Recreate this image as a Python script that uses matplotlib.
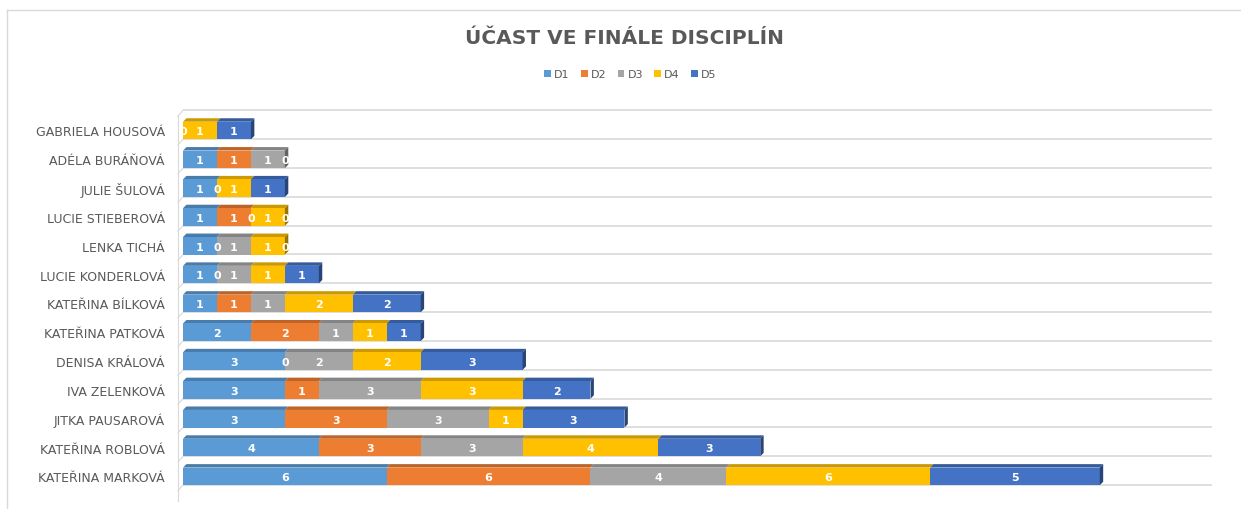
import numpy as np
import matplotlib.pyplot as plt
from matplotlib.patches import Polygon
from matplotlib.lines import Line2D

# data (top to bottom), nan = no value in the sheet
jmena = ["GABRIELA HOUSOVÁ", "ADÉLA BURÁŇOVÁ", "JULIE ŠULOVÁ", "LUCIE STIEBEROVÁ",
         "LENKA TICHÁ", "LUCIE KONDERLOVÁ", "KATEŘINA BÍLKOVÁ", "KATEŘINA PATKOVÁ",
         "DENISA KRÁLOVÁ", "IVA ZELENKOVÁ", "JITKA PAUSAROVÁ", "KATEŘINA ROBLOVÁ",
         "KATEŘINA MARKOVÁ"]
nan = np.nan
D1 = [nan, 1, 1, 1, 1, 1, 1, 2, 3, 3, 3, 4, 6]
D2 = [nan, 1, 0, 1, 0, 0, 1, 2, 0, 1, 3, 3, 6]
D3 = [0, 1, nan, 0, 1, 1, 1, 1, 2, 3, 3, 3, 4]
D4 = [1, 0, 1, 1, 1, 1, 2, 1, 2, 3, 1, 4, 6]
D5 = [1, nan, 1, 0, 0, 1, 2, 1, 3, 2, 3, 3, 5]
serie = ["D1", "D2", "D3", "D4", "D5"]
hodnoty = [D1, D2, D3, D4, D5]
barvy = ["#5B9BD5", "#ED7D31", "#A5A5A5", "#FFC000", "#4472C4"]

def tmavsi(c, f=0.78):
    c = c.lstrip("#")
    r, g, b = (int(c[i:i + 2], 16) / 255 for i in (0, 2, 4))
    return (r * f, g * f, b * f)

fig = plt.figure(figsize=(12.41, 5.10), dpi=100)
ax = fig.add_axes([0.1475, 0.0216, 0.829, 0.7686])

y = np.arange(len(jmena))
h = 0.61
dx, dy = 0.1, 0.12
seda = "#595959"

# floor / grid lines
for g in np.arange(-1, len(jmena)) + 0.3:
    ax.plot([0, 30.3], [g, g], color="#D9D9D9", lw=1.2, zorder=0)
    ax.plot([-0.15, 0], [g + 0.2, g], color="#D9D9D9", lw=0.8, zorder=0, clip_on=False)
ax.plot([-0.15, -0.15], [-0.5, 12.85], color="#D9D9D9", lw=0.8, clip_on=False)

left = np.zeros(len(jmena))
for k, (nazev, vals, col) in enumerate(zip(serie, hodnoty, barvy)):
    v = np.nan_to_num(np.array(vals, dtype=float))
    ax.barh(y, v, left=left, height=h, color=col, label=nazev, zorder=2)
    for i in range(len(jmena)):
        top = y[i] - h / 2
        if v[i] > 0:
            ax.add_patch(Polygon([(left[i], top), (left[i] + v[i], top),
                                  (left[i] + v[i] + dx, top - dy), (left[i] + dx, top - dy)],
                                 closed=True, color=tmavsi(col, 0.8), zorder=1.5, lw=0))
        if not np.isnan(vals[i]):
            ax.text(left[i] + v[i] / 2, y[i] + 0.03, f"{int(vals[i])}", ha="center", va="center",
                    color="white", fontsize=8, fontweight="bold", zorder=3, clip_on=True)
    left = left + v

# right side faces of bars
for i in range(len(jmena)):
    top = y[i] - h / 2
    last = [c for c, vals in zip(barvy, hodnoty) if not np.isnan(vals[i]) and vals[i] > 0][-1]
    ax.add_patch(Polygon([(left[i], top), (left[i] + dx, top - dy),
                          (left[i] + dx, top + h - dy), (left[i], top + h)],
                         closed=True, color=tmavsi(last, 0.6), zorder=2.5, lw=0))

ax.set_xlim(0, 30.3)
ax.set_ylim(12.75, -0.85)
ax.set_yticks(y)
ax.set_yticklabels(jmena, fontsize=9, color=seda)
ax.tick_params(axis="y", length=0, pad=13)
ax.set_xticks([])
for s in ax.spines.values():
    s.set_visible(False)

fig.text(0.503, 0.925, "ÚČAST VE FINÁLE DISCIPLÍN", ha="center", va="center",
         fontsize=14.5, fontweight="bold", color=seda)
fig.legend(loc="center", bbox_to_anchor=(0.508, 0.853), ncol=5, frameon=False,
           fontsize=8, handlelength=0.6, handleheight=0.6, handletextpad=0.3,
           columnspacing=1.0, labelcolor=seda)

# chart area border (top and left)
fig.add_artist(Line2D([7 / 1241, 1], [1 - 11 / 510, 1 - 11 / 510], color="#D9D9D9", lw=1))
fig.add_artist(Line2D([7 / 1241, 7 / 1241], [1 - 11 / 510, 0], color="#D9D9D9", lw=1))

fig.savefig("out.png", dpi=100)
